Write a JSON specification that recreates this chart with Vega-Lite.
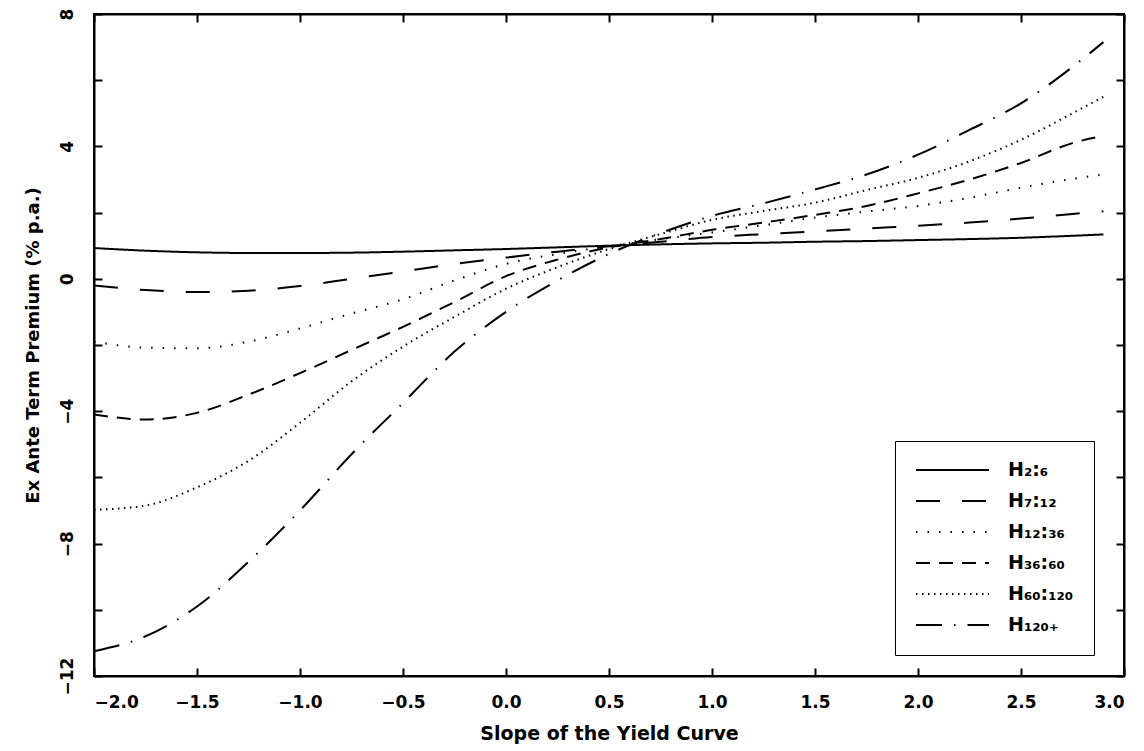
{
  "$schema": "https://vega.github.io/schema/vega-lite/v6.json",
  "width": 1030,
  "height": 662,
  "autosize": {"type": "none"},
  "padding": {"left": 94, "top": 14, "right": 20, "bottom": 75},
  "background": "white",
  "config": {
    "view": {"stroke": "black", "strokeWidth": 2},
    "font": "DejaVu Sans",
    "axis": {
      "grid": false,
      "domainColor": "black",
      "domainWidth": 2,
      "tickColor": "black",
      "tickWidth": 2,
      "labelColor": "black",
      "titleColor": "black",
      "labelFont": "DejaVu Sans",
      "titleFont": "DejaVu Sans",
      "labelFontWeight": "bold",
      "titleFontWeight": "bold",
      "titleLimit": 2000
    },
    "legend": {
      "labelFont": "DejaVu Sans",
      "labelFontWeight": "bold",
      "labelColor": "black",
      "labelLimit": 500
    }
  },
  "datasets": {
    "curves": [
      {"s": -2.0, "v": 0.93, "h": "H₂:₆"}, {"s": -1.75, "v": 0.85, "h": "H₂:₆"}, {"s": -1.5, "v": 0.80, "h": "H₂:₆"}, {"s": -1.25, "v": 0.78, "h": "H₂:₆"}, {"s": -1.0, "v": 0.78, "h": "H₂:₆"}, {"s": -0.75, "v": 0.79, "h": "H₂:₆"}, {"s": -0.5, "v": 0.82, "h": "H₂:₆"}, {"s": -0.25, "v": 0.86, "h": "H₂:₆"}, {"s": 0.0, "v": 0.90, "h": "H₂:₆"}, {"s": 0.25, "v": 0.95, "h": "H₂:₆"}, {"s": 0.5, "v": 1.00, "h": "H₂:₆"}, {"s": 0.75, "v": 1.04, "h": "H₂:₆"}, {"s": 1.0, "v": 1.07, "h": "H₂:₆"}, {"s": 1.25, "v": 1.09, "h": "H₂:₆"}, {"s": 1.5, "v": 1.12, "h": "H₂:₆"}, {"s": 1.75, "v": 1.14, "h": "H₂:₆"}, {"s": 2.0, "v": 1.17, "h": "H₂:₆"}, {"s": 2.25, "v": 1.20, "h": "H₂:₆"}, {"s": 2.5, "v": 1.24, "h": "H₂:₆"}, {"s": 2.75, "v": 1.30, "h": "H₂:₆"}, {"s": 2.9, "v": 1.34, "h": "H₂:₆"},

      {"s": -2.0, "v": -0.20, "h": "H₇:₁₂"}, {"s": -1.75, "v": -0.34, "h": "H₇:₁₂"}, {"s": -1.5, "v": -0.40, "h": "H₇:₁₂"}, {"s": -1.25, "v": -0.36, "h": "H₇:₁₂"}, {"s": -1.0, "v": -0.22, "h": "H₇:₁₂"}, {"s": -0.75, "v": 0.00, "h": "H₇:₁₂"}, {"s": -0.5, "v": 0.22, "h": "H₇:₁₂"}, {"s": -0.25, "v": 0.45, "h": "H₇:₁₂"}, {"s": 0.0, "v": 0.64, "h": "H₇:₁₂"}, {"s": 0.25, "v": 0.82, "h": "H₇:₁₂"}, {"s": 0.5, "v": 0.98, "h": "H₇:₁₂"}, {"s": 0.75, "v": 1.12, "h": "H₇:₁₂"}, {"s": 1.0, "v": 1.26, "h": "H₇:₁₂"}, {"s": 1.25, "v": 1.35, "h": "H₇:₁₂"}, {"s": 1.5, "v": 1.43, "h": "H₇:₁₂"}, {"s": 1.75, "v": 1.52, "h": "H₇:₁₂"}, {"s": 2.0, "v": 1.60, "h": "H₇:₁₂"}, {"s": 2.25, "v": 1.70, "h": "H₇:₁₂"}, {"s": 2.5, "v": 1.82, "h": "H₇:₁₂"}, {"s": 2.75, "v": 1.96, "h": "H₇:₁₂"}, {"s": 2.9, "v": 2.04, "h": "H₇:₁₂"},

      {"s": -2.0, "v": -1.90, "h": "H₁₂:₃₆"}, {"s": -1.75, "v": -2.08, "h": "H₁₂:₃₆"}, {"s": -1.5, "v": -2.10, "h": "H₁₂:₃₆"}, {"s": -1.25, "v": -1.90, "h": "H₁₂:₃₆"}, {"s": -1.0, "v": -1.50, "h": "H₁₂:₃₆"}, {"s": -0.75, "v": -1.05, "h": "H₁₂:₃₆"}, {"s": -0.5, "v": -0.62, "h": "H₁₂:₃₆"}, {"s": -0.25, "v": -0.05, "h": "H₁₂:₃₆"}, {"s": 0.0, "v": 0.45, "h": "H₁₂:₃₆"}, {"s": 0.25, "v": 0.75, "h": "H₁₂:₃₆"}, {"s": 0.5, "v": 0.98, "h": "H₁₂:₃₆"}, {"s": 0.75, "v": 1.20, "h": "H₁₂:₃₆"}, {"s": 1.0, "v": 1.40, "h": "H₁₂:₃₆"}, {"s": 1.25, "v": 1.62, "h": "H₁₂:₃₆"}, {"s": 1.5, "v": 1.85, "h": "H₁₂:₃₆"}, {"s": 1.75, "v": 2.03, "h": "H₁₂:₃₆"}, {"s": 2.0, "v": 2.20, "h": "H₁₂:₃₆"}, {"s": 2.25, "v": 2.45, "h": "H₁₂:₃₆"}, {"s": 2.5, "v": 2.75, "h": "H₁₂:₃₆"}, {"s": 2.75, "v": 3.02, "h": "H₁₂:₃₆"}, {"s": 2.9, "v": 3.15, "h": "H₁₂:₃₆"},

      {"s": -2.0, "v": -4.10, "h": "H₃₆:₆₀"}, {"s": -1.75, "v": -4.25, "h": "H₃₆:₆₀"}, {"s": -1.5, "v": -4.05, "h": "H₃₆:₆₀"}, {"s": -1.25, "v": -3.50, "h": "H₃₆:₆₀"}, {"s": -1.0, "v": -2.85, "h": "H₃₆:₆₀"}, {"s": -0.75, "v": -2.15, "h": "H₃₆:₆₀"}, {"s": -0.5, "v": -1.45, "h": "H₃₆:₆₀"}, {"s": -0.25, "v": -0.70, "h": "H₃₆:₆₀"}, {"s": 0.0, "v": 0.08, "h": "H₃₆:₆₀"}, {"s": 0.25, "v": 0.58, "h": "H₃₆:₆₀"}, {"s": 0.5, "v": 0.95, "h": "H₃₆:₆₀"}, {"s": 0.75, "v": 1.20, "h": "H₃₆:₆₀"}, {"s": 1.0, "v": 1.48, "h": "H₃₆:₆₀"}, {"s": 1.25, "v": 1.70, "h": "H₃₆:₆₀"}, {"s": 1.5, "v": 1.93, "h": "H₃₆:₆₀"}, {"s": 1.75, "v": 2.20, "h": "H₃₆:₆₀"}, {"s": 2.0, "v": 2.58, "h": "H₃₆:₆₀"}, {"s": 2.25, "v": 3.00, "h": "H₃₆:₆₀"}, {"s": 2.5, "v": 3.50, "h": "H₃₆:₆₀"}, {"s": 2.75, "v": 4.10, "h": "H₃₆:₆₀"}, {"s": 2.9, "v": 4.32, "h": "H₃₆:₆₀"},

      {"s": -2.0, "v": -6.98, "h": "H₆₀:₁₂₀"}, {"s": -1.75, "v": -6.85, "h": "H₆₀:₁₂₀"}, {"s": -1.5, "v": -6.30, "h": "H₆₀:₁₂₀"}, {"s": -1.25, "v": -5.50, "h": "H₆₀:₁₂₀"}, {"s": -1.0, "v": -4.35, "h": "H₆₀:₁₂₀"}, {"s": -0.75, "v": -3.10, "h": "H₆₀:₁₂₀"}, {"s": -0.5, "v": -2.05, "h": "H₆₀:₁₂₀"}, {"s": -0.25, "v": -1.15, "h": "H₆₀:₁₂₀"}, {"s": 0.0, "v": -0.30, "h": "H₆₀:₁₂₀"}, {"s": 0.25, "v": 0.35, "h": "H₆₀:₁₂₀"}, {"s": 0.5, "v": 0.90, "h": "H₆₀:₁₂₀"}, {"s": 0.75, "v": 1.35, "h": "H₆₀:₁₂₀"}, {"s": 1.0, "v": 1.78, "h": "H₆₀:₁₂₀"}, {"s": 1.25, "v": 2.05, "h": "H₆₀:₁₂₀"}, {"s": 1.5, "v": 2.30, "h": "H₆₀:₁₂₀"}, {"s": 1.75, "v": 2.68, "h": "H₆₀:₁₂₀"}, {"s": 2.0, "v": 3.05, "h": "H₆₀:₁₂₀"}, {"s": 2.25, "v": 3.55, "h": "H₆₀:₁₂₀"}, {"s": 2.5, "v": 4.20, "h": "H₆₀:₁₂₀"}, {"s": 2.75, "v": 5.00, "h": "H₆₀:₁₂₀"}, {"s": 2.9, "v": 5.50, "h": "H₆₀:₁₂₀"},

      {"s": -2.0, "v": -11.25, "h": "H₁₂₀₊"}, {"s": -1.75, "v": -10.80, "h": "H₁₂₀₊"}, {"s": -1.5, "v": -9.90, "h": "H₁₂₀₊"}, {"s": -1.25, "v": -8.55, "h": "H₁₂₀₊"}, {"s": -1.0, "v": -7.00, "h": "H₁₂₀₊"}, {"s": -0.75, "v": -5.30, "h": "H₁₂₀₊"}, {"s": -0.5, "v": -3.75, "h": "H₁₂₀₊"}, {"s": -0.25, "v": -2.20, "h": "H₁₂₀₊"}, {"s": 0.0, "v": -1.00, "h": "H₁₂₀₊"}, {"s": 0.25, "v": -0.05, "h": "H₁₂₀₊"}, {"s": 0.5, "v": 0.75, "h": "H₁₂₀₊"}, {"s": 0.75, "v": 1.38, "h": "H₁₂₀₊"}, {"s": 1.0, "v": 1.90, "h": "H₁₂₀₊"}, {"s": 1.25, "v": 2.28, "h": "H₁₂₀₊"}, {"s": 1.5, "v": 2.70, "h": "H₁₂₀₊"}, {"s": 1.75, "v": 3.15, "h": "H₁₂₀₊"}, {"s": 2.0, "v": 3.75, "h": "H₁₂₀₊"}, {"s": 2.25, "v": 4.50, "h": "H₁₂₀₊"}, {"s": 2.5, "v": 5.30, "h": "H₁₂₀₊"}, {"s": 2.75, "v": 6.40, "h": "H₁₂₀₊"}, {"s": 2.9, "v": 7.15, "h": "H₁₂₀₊"}
    ]
  },
  "data": {"name": "curves"},
  "layer": [
    {
      "mark": {"type": "line", "color": "black", "strokeWidth": 2, "interpolate": "monotone"},
      "encoding": {
        "x": {
          "field": "s", "type": "quantitative",
          "scale": {"domain": [-2, 3], "nice": false, "zero": false},
          "axis": {
            "orient": "bottom",
            "values": [-2, -1.5, -1, -0.5, 0, 0.5, 1, 1.5, 2, 2.5, 3],
            "format": ".1f",
            "labelFlush": true,
            "tickSize": -8,
            "labelPadding": 26,
            "labelFontSize": 17,
            "title": "Slope of the Yield Curve",
            "titleFontSize": 19,
            "titlePadding": 14
          }
        },
        "y": {
          "field": "v", "type": "quantitative",
          "scale": {"domain": [-12, 8], "nice": false, "zero": false},
          "axis": {
            "orient": "left",
            "values": [-12, -10, -8, -6, -4, -2, 0, 2, 4, 6, 8],
            "labelExpr": "datum.value % 4 == 0 ? datum.label : ''",
            "labelAngle": 270,
            "labelAlign": "center",
            "labelBaseline": "bottom",
            "tickSize": -8,
            "labelPadding": 26,
            "labelFontSize": 17,
            "title": "Ex Ante Term Premium (% p.a.)",
            "titleLimit": 2000,
            "titleFontSize": 18,
            "titlePadding": 16
          }
        },
        "strokeDash": {
          "field": "h", "type": "nominal",
          "scale": {
            "domain": ["H₂:₆", "H₇:₁₂", "H₁₂:₃₆", "H₃₆:₆₀", "H₆₀:₁₂₀", "H₁₂₀₊"],
            "range": [[1, 0], [24, 22], [1.5, 10], [14, 9], [1.5, 4.5], [26, 12, 1.5, 12]]
          },
          "legend": {
            "orient": "none",
            "legendX": 801,
            "legendY": 427,
            "title": null,
            "fillColor": "white",
            "strokeColor": "black",
            "padding": 20,
            "symbolType": "stroke",
            "symbolSize": 5329,
            "symbolStrokeWidth": 2,
            "symbolStrokeColor": "black",
            "clipHeight": 18,
            "rowPadding": 12,
            "labelOffset": 18,
            "labelFontSize": 19
          }
        }
      }
    },
    {
      "mark": {"type": "line", "opacity": 0},
      "encoding": {
        "x": {
          "field": "s", "type": "quantitative",
          "axis": {
            "orient": "top",
            "values": [-2, -1.5, -1, -0.5, 0, 0.5, 1, 1.5, 2, 2.5, 3],
            "labels": false,
            "title": null,
            "tickSize": -8
          }
        },
        "y": {
          "field": "v", "type": "quantitative",
          "axis": {
            "orient": "right",
            "values": [-12, -10, -8, -6, -4, -2, 0, 2, 4, 6, 8],
            "labels": false,
            "title": null,
            "tickSize": -8
          }
        },
        "detail": {"field": "h"}
      }
    }
  ],
  "resolve": {"axis": {"x": "independent", "y": "independent"}}
}
